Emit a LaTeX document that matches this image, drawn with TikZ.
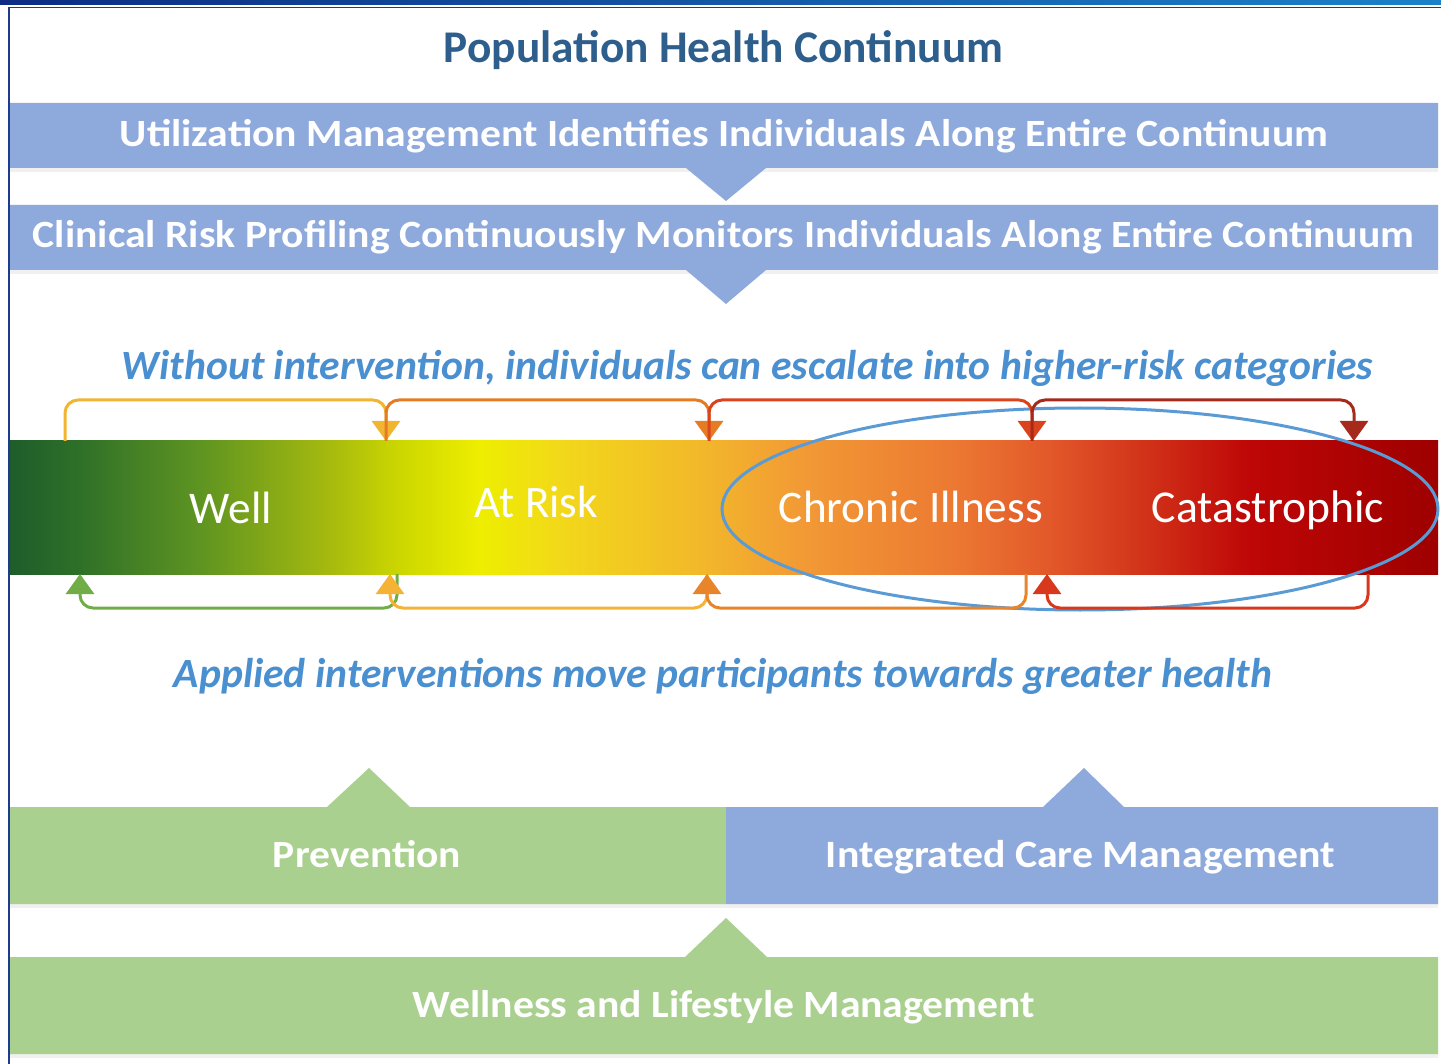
\documentclass[tikz,border=0pt]{standalone}
\usepackage{fontspec}
\setmainfont{Carlito}
\newfontfamily\wfont[FakeStretch=1.08]{Carlito}
\usepackage{graphicx}
\usetikzlibrary{arrows.meta,shapes.geometric}
\definecolor{navy}{HTML}{0C2D83}
\definecolor{topblue}{HTML}{1B82C8}
\definecolor{frameline}{HTML}{1E3C8C}
\definecolor{bannerblue}{HTML}{8EA9DB}
\definecolor{lgreen}{HTML}{A9D08E}
\definecolor{titleblue}{HTML}{2E5E8C}
\definecolor{itblue}{HTML}{4A8FD0}
\definecolor{ellblue}{HTML}{5B9BD5}
\definecolor{g0}{HTML}{1E5C2A}
\definecolor{g1}{HTML}{2F7028}
\definecolor{g2}{HTML}{5E9421}
\definecolor{g3}{HTML}{A6BA0E}
\definecolor{g4}{HTML}{CCD700}
\definecolor{g5}{HTML}{EEEE00}
\definecolor{g6}{HTML}{F2D81A}
\definecolor{g7}{HTML}{F2B82A}
\definecolor{g8}{HTML}{F29A35}
\definecolor{g9}{HTML}{EC7A32}
\definecolor{g10}{HTML}{E2582A}
\definecolor{g11}{HTML}{D03018}
\definecolor{g12}{HTML}{BE0606}
\definecolor{g13}{HTML}{9E0000}
\definecolor{tc1}{HTML}{F2B531}
\definecolor{tc2}{HTML}{E57B22}
\definecolor{tc3}{HTML}{D9441C}
\definecolor{tc4}{HTML}{A52A1C}
\definecolor{bc1}{HTML}{70AD47}
\definecolor{bc2}{HTML}{F5B335}
\definecolor{bc3}{HTML}{E8842A}
\definecolor{bc4}{HTML}{D8381B}
\pgfdeclarehorizontalshading{barshade}{100bp}{color(0bp)=(g0); color(25bp)=(g0); color(27.45bp)=(g1); color(31.65bp)=(g2); color(36.2bp)=(g3); color(38.66bp)=(g4); color(41.46bp)=(g5); color(44.26bp)=(g6); color(49.16bp)=(g7); color(52.66bp)=(g8); color(57.91bp)=(g9); color(61.41bp)=(g10); color(64.92bp)=(g11); color(68.42bp)=(g12); color(75bp)=(g13); color(100bp)=(g13)}
\newcommand{\fitw}[2]{\resizebox{#1pt}{!}{#2}}
\begin{document}
\begin{tikzpicture}[x=1pt,y=-1pt,
  txt/.style={inner sep=0pt,anchor=base},
  bantxt/.style={txt,text=white,font=\wfont\bfseries},
  lbl/.style={txt,text=white,font=\normalfont},
  ittxt/.style={txt,text=itblue,font=\bfseries\itshape},
  brk/.style={line width=3pt,rounded corners=13pt},
  tipa/.style={-{Triangle[width=28pt,length=20pt]}},
  shadowbar/.style={fill=black!6}
]
\useasboundingbox (0,0) rectangle (1441,1064);
\fill[white] (0,0) rectangle (1441,1064);
% frame
\shade[left color=navy,right color=topblue] (0,0) rectangle (1441,4.5);
\draw[frameline,line width=1.6pt] (9,1064) -- (9,7.5) -- (1441,7.5);
% title
\node[txt,text=titleblue,font=\bfseries] (title) at (723.5,63) {\fitw{559}{Population Health Continuum}};
% banners with shadow
\fill[shadowbar] (10,168) rectangle (1438,172);
\fill[shadowbar] (10,270) rectangle (1438,274);
\fill[bannerblue] (10,103) -- (1438,103) -- (1438,168) -- (766,168) -- (726,201) -- (686,168) -- (10,168) -- cycle;
\node[bantxt] (um) at (724,147) {\fitw{1208}{Utilization Management Identifies Individuals Along Entire Continuum}};
\fill[bannerblue] (10,205) -- (1438,205) -- (1438,270) -- (766,270) -- (726,304) -- (686,270) -- (10,270) -- cycle;
\node[bantxt] (crp) at (723.5,248) {\fitw{1381}{Clinical Risk Profiling Continuously Monitors Individuals Along Entire Continuum}};
% italic line 1
\node[ittxt] (esc) at (747.5,380) {\fitw{1251}{Without intervention, individuals can escalate into higher-risk categories}};
% continuum bar
\node[draw=none,fill=none,inner sep=0pt,minimum width=1428pt,minimum height=133pt] (bar) at (724,507.5) {};
\shade[shading=barshade] (bar.north west) rectangle (bar.south east);
% ellipse
\node[ellipse,draw=ellblue,line width=3pt,minimum width=716pt,minimum height=202pt,inner sep=0pt] (ell) at (1080,509) {};
% stage labels
\node[lbl] (well) at (231,523) {\fitw{82}{Well}};
\node[lbl] (risk) at (536.5,517) {\fitw{123}{At Risk}};
\node[lbl] (chronic) at (911,522) {\fitw{264}{Chronic Illness}};
\node[lbl] (cat) at (1268,522) {\fitw{232}{Catastrophic}};
% escalation connectors (top)
\coordinate (t0) at (65,441);
\coordinate (t1) at (386,441);
\coordinate (t2) at (709,441);
\coordinate (t3) at (1032,441);
\coordinate (t4) at (1354,441);
\draw[brk,tc1,tipa] (t0) -- ++(0,-41) -| (t1);
\draw[brk,tc2,tipa] (t1) -- ++(0,-41) -| (t2);
\draw[brk,tc3,tipa] (t2) -- ++(0,-41) -| (t3);
\draw[brk,tc4,tipa] (t3) -- ++(0,-41) -| (t4);
% intervention connectors (bottom)
\coordinate (b0) at (80,574);
\coordinate (b1) at (390,574);
\coordinate (b1s) at (397,574);
\coordinate (b2) at (707,574);
\coordinate (b3) at (1026,574);
\coordinate (b3a) at (1047,574);
\coordinate (b4) at (1368,574);
\draw[brk,bc1,tipa] (b1s) -- ++(0,34) -| (b0);
\draw[brk,bc2,tipa] (b2) -- ++(0,34) -| (b1);
\draw[brk,bc3,tipa] (b3) -- ++(0,34) -| (b2);
\draw[brk,bc4,tipa] (b4) -- ++(0,34) -| (b3a);
% italic line 2
\node[ittxt] (appl) at (723,687) {\fitw{1098}{Applied interventions move participants towards greater health}};
% bottom boxes
\fill[shadowbar] (10,904) rectangle (1438,908);
\fill[shadowbar] (10,1054) rectangle (1438,1058);
\fill[lgreen] (10,807) -- (327,807) -- (369,768) -- (410,807) -- (726,807) -- (726,904) -- (10,904) -- cycle;
\fill[bannerblue] (726,807) -- (1043,807) -- (1084,768) -- (1124,807) -- (1438,807) -- (1438,904) -- (726,904) -- cycle;
\fill[lgreen] (10,957) -- (685,957) -- (726,918) -- (767,957) -- (1438,957) -- (1438,1054) -- (10,1054) -- cycle;
\node[bantxt] (prev) at (367,867) {\fitw{188}{Prevention}};
\node[bantxt] (icm) at (1080.5,867) {\fitw{509}{Integrated Care Management}};
\node[bantxt] (wlm) at (724,1017) {\fitw{622}{Wellness and Lifestyle Management}};
\end{tikzpicture}
\end{document}
